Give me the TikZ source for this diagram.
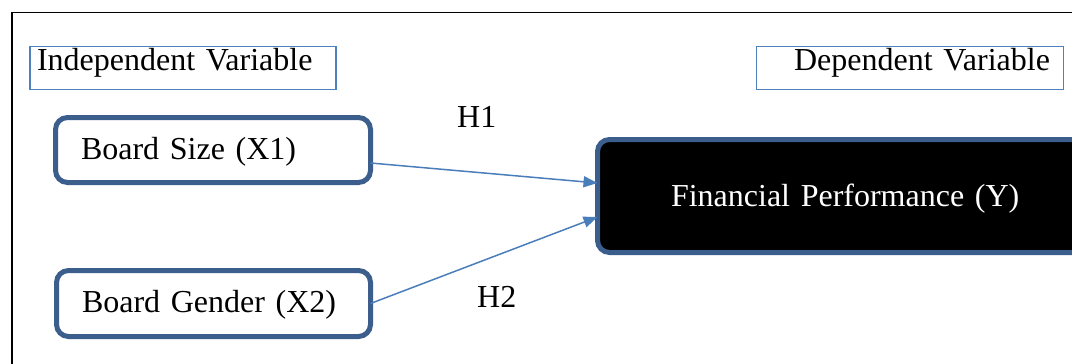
\documentclass[tikz,border=0pt]{standalone}
\usepackage{fontspec}
\setmainfont{Liberation Serif}
\usetikzlibrary{arrows.meta}
\definecolor{boxblue}{HTML}{3B5E8C}
\definecolor{thinblue}{HTML}{4F81BD}
\definecolor{arrowblue}{HTML}{4A7EBB}
\tikzset{
  bigtext/.style={font=\fontsize{32}{38}\selectfont},
  labelbox/.style={draw=thinblue, line width=1.5pt, outer sep=0pt, inner ysep=0pt,
    anchor=north west, text height=23.5pt, text depth=19.5pt, bigtext},
  varbox/.style={draw=boxblue, line width=5pt, rounded corners=12pt, outer sep=0pt,
    inner ysep=0pt, inner xsep=25.5pt, anchor=north west, align=left, fill=white, bigtext},
  hyp/.style={anchor=base west, inner sep=0pt, bigtext},
  conn/.style={draw=arrowblue, line width=1.5pt, -{Triangle[length=14pt,width=11pt]}}
}
\begin{document}
\begin{tikzpicture}[x=1pt,y=-1pt]
\useasboundingbox (0,0) rectangle (1072,364);
% outer frame (extends past the picture's right and bottom)
\draw[line width=1.6pt] (1095,12.5) -- (11.8,12.5) -- (11.8,380);
% header labels
\node[labelbox, inner xsep=7pt, text width=292pt, align=left] (iv) at (30,46.5) {Independent Variable};
\node[labelbox, inner xsep=13.5pt, text width=280pt, align=right] (dv) at (756.5,46.5) {Dependent Variable};
% variable boxes
\node[varbox, text width=264pt, text height=41.5pt, text depth=23.5pt] (bs) at (55.5,117.5) {Board Size (X1)};
\node[varbox, text width=263pt, text height=41.5pt, text depth=24.5pt] (bg) at (56.5,270.5) {Board Gender (X2)};
\node[varbox, fill=black, text=white, inner xsep=73.5pt, text width=380pt, text height=66.5pt, text depth=46.5pt] (fp) at (597.5,139.5) {Financial Performance (Y)};
% hypotheses
\node[hyp] (h1) at (457,127) {H1};
\node[hyp] (h2) at (477,307) {H2};
% connectors
\draw[conn] ([yshift=-13pt]bs.east) -- ([yshift=13pt]fp.west);
\draw[conn] (bg.east) -- ([yshift=-21pt]fp.west);
\end{tikzpicture}
\end{document}
